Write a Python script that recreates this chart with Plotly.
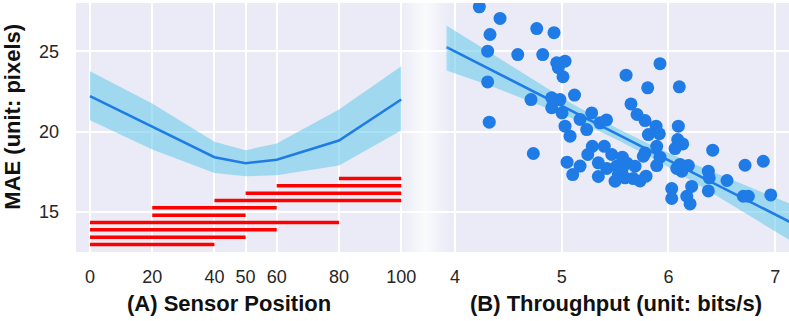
import plotly.graph_objects as go

# (A) sensor position vs MAE
pos = [0, 20, 40, 50, 60, 80, 100]
mae = [22.2, 20.3, 18.4, 18.03, 18.24, 19.44, 21.99]
mae_hi = [23.75, 21.74, 19.36, 18.84, 19.25, 21.37, 24.06]
mae_lo = [20.70, 18.88, 17.41, 17.22, 17.27, 17.89, 20.06]

# red range bars
seg_start = [80, 60, 50, 40, 20, 20, 0, 0, 0, 0]
seg_end = [100, 100, 100, 100, 60, 50, 80, 60, 50, 40]
seg_y = [17.07, 16.62, 16.16, 15.70, 15.25, 14.79, 14.33, 13.88, 13.42, 12.96]

# (B) throughput vs MAE
thr = [4.228, 4.422, 4.328, 4.766, 4.928, 4.306, 4.588, 4.822, 4.953, 5.031,
       4.968, 5.012, 4.306, 4.712, 4.906, 4.984, 5.120, 4.906, 5.003, 4.321,
       5.031, 5.078, 4.734, 5.172, 5.281, 5.234, 5.359, 5.420, 5.287, 5.399,
       5.244, 5.469, 5.568, 5.603, 5.921, 5.806, 6.102, 5.649, 5.706, 5.781,
       5.884, 6.093, 5.812, 5.915, 6.087, 6.134, 6.062, 5.890, 5.781, 5.765,
       5.921, 5.890, 6.415, 5.050, 5.172, 5.103, 5.343, 5.422, 5.343, 5.515,
       5.530, 5.500, 5.593, 5.687, 5.671, 5.734, 5.790, 6.109, 6.187, 6.125,
       6.078, 6.374, 6.383, 6.218, 6.374, 6.031, 6.031, 6.172, 6.203, 6.549,
       6.718, 6.889, 6.702, 6.749, 6.959, 5.612, 5.565]
err = [27.76, 27.04, 26.04, 26.41, 26.15, 25.00, 24.79, 24.79, 24.28, 24.38,
       23.97, 23.41, 23.09, 21.99, 22.10, 21.99, 22.27, 21.48, 21.16, 20.58,
       20.33, 19.71, 18.63, 20.75, 21.16, 20.12, 20.54, 20.72, 19.08, 19.08,
       18.57, 18.57, 18.40, 23.51, 24.22, 22.72, 22.78, 21.72, 21.06, 20.68,
       20.33, 20.33, 19.81, 19.86, 19.50, 19.23, 18.94, 19.08, 18.67, 18.46,
       18.40, 17.88, 18.84, 18.09, 17.85, 17.32, 18.05, 17.70, 17.20, 17.84,
       17.32, 16.91, 17.12, 17.84, 17.07, 16.92, 17.22, 17.95, 17.88, 17.53,
       17.70, 17.53, 17.12, 16.58, 16.30, 16.45, 15.83, 15.97, 15.49, 16.95,
       17.90, 18.15, 15.97, 15.97, 16.05, 18.03, 17.63]

# regression line + confidence band
reg_x = [3.92, 7.15]
reg_y = [25.25, 14.33]
band_x = [3.92, 4.3, 4.7, 5.1, 5.5, 5.9, 6.3, 6.7, 7.15]
band_hi = [26.60, 25.02, 23.33, 21.71, 20.27, 18.96, 17.81, 16.70, 15.48]
band_lo = [23.80, 22.92, 21.89, 20.81, 19.55, 18.16, 16.61, 15.00, 13.18]

x_ticks_a = [0, 20, 40, 50, 60, 80, 100]
x_ticks_b = [4, 5, 6, 7]
y_ticks = [15, 20, 25]

BLUE = "#1f7be6"
BAND = "rgba(110,205,235,0.6)"
BG = "#eaebf6"
W, H = 789, 321
ML, MR, MT, MB = 76, 0, 3, 69
PW = W - ML - MR
split = (423 - ML) / PW

fig = go.Figure()

# left panel
fig.add_trace(go.Scatter(x=pos + pos[::-1], y=mae_hi + mae_lo[::-1], fill="toself",
                         fillcolor=BAND, line=dict(width=0), mode="lines",
                         hoverinfo="skip", xaxis="x", yaxis="y"))
fig.add_trace(go.Scatter(x=pos, y=mae, mode="lines", line=dict(color=BLUE, width=2.5),
                         xaxis="x", yaxis="y"))
sx, sy = [], []
for a, b, y in zip(seg_start, seg_end, seg_y):
    sx += [a, b, None]
    sy += [y, y, None]
fig.add_trace(go.Scatter(x=sx, y=sy, mode="lines", line=dict(color="#ff0000", width=3.5),
                         xaxis="x", yaxis="y"))

# right panel
fig.add_trace(go.Scatter(x=band_x + band_x[::-1], y=band_hi + band_lo[::-1], fill="toself",
                         fillcolor=BAND, line=dict(width=0), mode="lines",
                         hoverinfo="skip", xaxis="x2", yaxis="y2"))
fig.add_trace(go.Scatter(x=reg_x, y=reg_y, mode="lines", line=dict(color=BLUE, width=2.5),
                         xaxis="x2", yaxis="y2"))
fig.add_trace(go.Scatter(x=thr, y=err, mode="markers",
                         marker=dict(color=BLUE, size=13, line=dict(width=0)),
                         xaxis="x2", yaxis="y2"))

# soft white fade between the two panels
shapes = []
for i in range(26):
    px = 402 + i * 2
    d = abs(px + 1 - 425)
    op = max(0.0, 0.75 * (1 - d / 26.0))
    shapes.append(dict(type="rect", xref="paper", yref="paper",
                       x0=(px - ML) / PW, x1=(px + 2 - ML) / PW,
                       y0=0, y1=1, fillcolor="white", opacity=op,
                       line=dict(width=0), layer="above"))

tick_font = dict(family="Liberation Sans, Arial, sans-serif", size=18, color="#262626")
title_font = dict(family="Liberation Sans, Arial, sans-serif", size=22, color="#111111")

axis_common = dict(showgrid=True, gridcolor="white", gridwidth=1.5, zeroline=False,
                   showline=False, ticks="", tickfont=tick_font, automargin=False)

fig.update_layout(
    template="none",
    width=W, height=H,
    margin=dict(l=ML, r=MR, t=MT, b=MB, autoexpand=False),
    paper_bgcolor="white", plot_bgcolor=BG,
    showlegend=False,
    hovermode=False,
    shapes=shapes,
    xaxis=dict(domain=[0, split], range=[-4.5, 107], tickvals=x_ticks_a,
               ticklabelstandoff=12, anchor="y", **axis_common),
    xaxis2=dict(domain=[split, 1], range=[3.70, 7.13], tickvals=x_ticks_b,
                ticklabelstandoff=12, anchor="y2", **axis_common),
    yaxis=dict(range=[12.5, 28], tickvals=y_ticks, ticklabelstandoff=16, anchor="x",
               **axis_common),
    yaxis2=dict(range=[12.5, 28], tickvals=y_ticks, showticklabels=False,
                anchor="x2", matches="y", **axis_common),
    annotations=[
        dict(text="<b>(A) Sensor Position</b>", xref="paper", yref="paper",
             x=(228.5 - ML) / PW, y=(252 - 303.3) / (252 - MT),
             xanchor="center", yanchor="middle", showarrow=False, font=title_font),
        dict(text="<b>(B) Throughput (unit: bits/s)</b>", xref="paper", yref="paper",
             x=(616 - ML) / PW, y=(252 - 303.3) / (252 - MT),
             xanchor="center", yanchor="middle", showarrow=False, font=title_font),
        dict(text="<b>MAE (unit: pixels)</b>", xref="paper", yref="paper",
             x=(13 - ML) / PW, y=(252 - 116.7) / (252 - MT),
             xanchor="center", yanchor="middle", textangle=-90, showarrow=False,
             font=title_font),
    ],
)

# the page has a default 8px body margin; drop it so the figure sits at 0,0
fig.write_html("out.html", config={"displayModeBar": False},
               post_script="document.body.style.margin='0px';")
